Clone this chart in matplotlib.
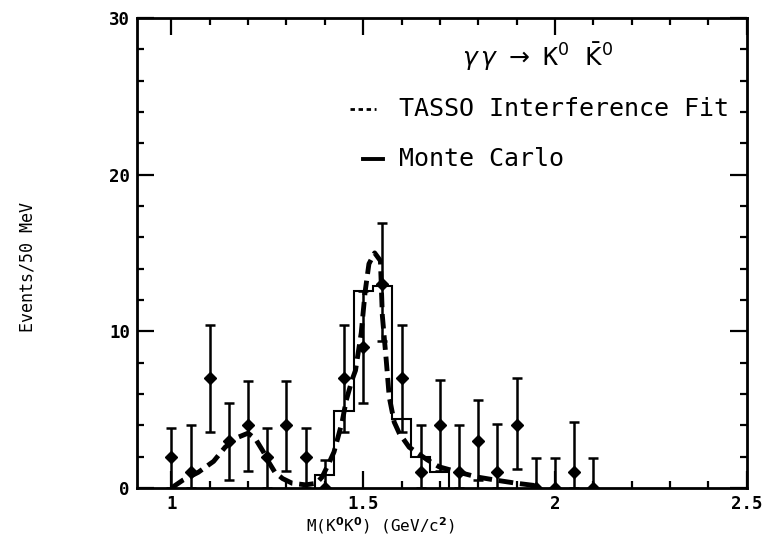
import numpy as np
import matplotlib
matplotlib.use('Agg')
import matplotlib.pyplot as plt
from matplotlib.ticker import MultipleLocator

# data points, 50 MeV bins
mass = [1.00, 1.05, 1.10, 1.15, 1.20, 1.25, 1.30, 1.35, 1.40, 1.45, 1.50, 1.55,
        1.60, 1.65, 1.70, 1.75, 1.80, 1.85, 1.90, 1.95, 2.00, 2.05, 2.10]
counts = [2, 1, 7, 3, 4, 2, 4, 2, 0, 7, 9, 13, 7, 1, 4, 1, 3, 1, 4, 0, 0, 1, 0]
err_top = [3.8, 4.0, 10.4, 5.4, 6.8, 3.8, 6.8, 3.8, 1.8, 10.4, 12.6, 16.9,
           10.4, 4.0, 6.9, 4.0, 5.6, 4.1, 7.0, 1.9, 1.9, 4.2, 1.9]
err_bot = [0, 0, 3.6, 0.5, 1.1, 0, 1.1, 0, 0, 3.6, 5.4, 9.4,
           3.6, 0, 1.1, 0, 0.5, 0, 1.2, 0, 0, 0, 0]

# Monte Carlo histogram
mc_centers = [1.40, 1.45, 1.50, 1.55, 1.60, 1.65, 1.70]
mc_values = [0.8, 4.9, 12.6, 12.9, 4.4, 2.0, 1.0]

# TASSO interference fit
fit_x = [1.00, 1.03, 1.07, 1.11, 1.14, 1.17, 1.20, 1.22, 1.24, 1.255, 1.27, 1.29,
         1.315, 1.35, 1.378, 1.393, 1.411, 1.424, 1.445, 1.456, 1.471, 1.48,
         1.495, 1.505, 1.515, 1.53, 1.545, 1.55, 1.56, 1.568, 1.581, 1.594,
         1.62, 1.667, 1.698, 1.75, 1.797, 1.846, 1.90, 1.95]
fit_y = [0.0, 0.5, 1.0, 1.7, 2.6, 3.2, 3.5, 3.1, 2.3, 1.6, 1.0, 0.6,
         0.3, 0.2, 0.3, 0.7, 1.6, 2.3, 4.2, 5.6, 6.9, 7.5,
         9.9, 12.5, 14.3, 15.0, 14.5, 11.0, 8.2, 5.8, 4.2, 3.5,
         2.6, 1.8, 1.35, 1.0, 0.7, 0.5, 0.3, 0.15]

mass = np.array(mass)
counts = np.array(counts)
yerr = [counts - np.array(err_bot), np.array(err_top) - counts]
mc_centers = np.array(mc_centers)
mc_edges = np.append(mc_centers - 0.025, mc_centers[-1] + 0.025)

mono = 'DejaVu Sans Mono'

fig = plt.figure(figsize=(7.69, 5.41), dpi=100)
ax = fig.add_axes([0.178, 0.098, 0.793, 0.869])

ax.plot(fit_x, fit_y, color='black', lw=3.5, ls=(0, (3, 1.4)))
ax.stairs(mc_values, mc_edges, color='black', lw=1.5, baseline=0)
ax.errorbar(mass, counts, yerr=yerr, fmt='D', color='black', ms=6.5,
            lw=1.8, capsize=3.5, capthick=1.8)

ax.set_xlim(0.91, 2.5)
ax.set_ylim(0, 30)
ax.set_xticks([1, 1.5, 2, 2.5])
ax.set_xticklabels(['1', '1.5', '2', '2.5'])
ax.set_yticks([0, 10, 20, 30])
ax.xaxis.set_minor_locator(MultipleLocator(0.1))
ax.yaxis.set_minor_locator(MultipleLocator(2))
ax.tick_params(which='both', direction='in', top=True, right=True,
               width=1.6, labelsize=12.5, pad=5)
ax.tick_params(which='major', length=12)
ax.tick_params(which='minor', length=5)
for lab in ax.get_xticklabels() + ax.get_yticklabels():
    lab.set_fontfamily(mono)
    lab.set_fontweight('bold')
for s in ax.spines.values():
    s.set_linewidth(2)

ax.set_xlabel(r'M(K$^\mathbf{0}$K$^\mathbf{0}$) (GeV/c$^\mathbf{2}$)',
              fontsize=11.5, family=mono)
ax.xaxis.set_label_coords(0.40, -0.058)
ax.set_ylabel('Events/50 MeV', fontsize=12, family=mono)
ax.yaxis.set_label_coords(-0.164, 0.47)

ax.text(0.658, 0.917, r'$\gamma\,\gamma\ \rightarrow\ $K$^0$ $\bar{\mathrm{K}}^0$',
        transform=ax.transAxes, fontsize=18, ha='center', va='center',
        family=mono)
ax.plot([0.35, 0.392], [0.807, 0.807], transform=ax.transAxes,
        color='black', lw=2, ls=(0, (1.6, 1.3)))
ax.text(0.43, 0.807, 'TASSO Interference Fit', transform=ax.transAxes,
        fontsize=18, va='center', family=mono)
ax.plot([0.371, 0.403], [0.70, 0.70], transform=ax.transAxes,
        color='black', lw=2.8)
ax.text(0.43, 0.70, 'Monte Carlo', transform=ax.transAxes,
        fontsize=18, va='center', family=mono)

fig.savefig('out.png', dpi=100)
